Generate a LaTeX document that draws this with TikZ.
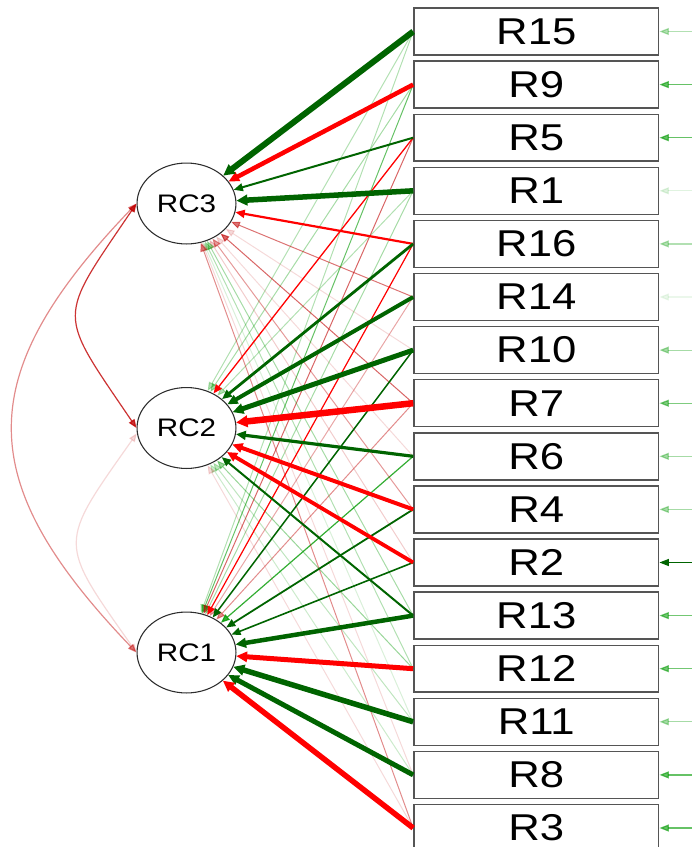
\documentclass[tikz,border=0pt]{standalone}
\usepackage{fontspec}
\newfontfamily\labfont[FakeStretch=1.17]{Liberation Sans}
\usetikzlibrary{shapes.geometric,arrows.meta}
\definecolor{sgreen}{RGB}{0,100,0}
\definecolor{wgreen}{RGB}{0,153,0}
\definecolor{sred}{RGB}{255,0,0}
\definecolor{wred}{RGB}{191,0,0}
\definecolor{boxline}{RGB}{85,85,85}
\definecolor{ellline}{RGB}{45,45,45}
\begin{document}
\begin{tikzpicture}[x=0.75pt,y=-0.75pt,
  item/.style={draw=boxline,line width=1.1pt,fill=white,minimum width=183.6pt,minimum height=35.2pt,inner sep=0pt,font=\labfont\fontsize{28}{28}\selectfont},
  factor/.style={ellipse,draw=ellline,line width=0.8pt,fill=white,minimum width=74.2pt,minimum height=60.7pt,inner sep=0pt,font=\labfont\fontsize{19}{19}\selectfont},
  edgetip/.style={-{Triangle[length=6.2pt 0.5,width=4.6pt 0.8]}},
  cortip/.style={{Triangle[length=6.5pt,width=5pt]}-{Triangle[length=6.5pt,width=5pt]}, draw=wred, line width=0.9pt},
  restip/.style={-{Triangle[length=7pt,width=5.2pt]}, line width=0.9pt}]
\useasboundingbox (0,0) rectangle (692,847);

% items
\foreach \nn [count=\ii from 0] in {15,9,5,1,16,14,10,7,6,4,2,13,12,11,8,3}{
  \node[item] (R\nn) at (536.3, 31.5+53.1*\ii) {R\nn};
}
% factors
\node[factor] (RC3) at (186.5,203.5) {RC3};
\node[factor] (RC2) at (186.5,428) {RC2};
\node[factor] (RC1) at (186.5,652.5) {RC1};

% weak loadings
\foreach \ii/\ff/\cc/\ww/\oo in {
  15/2/wgreen/1/0.3, 15/1/wgreen/1/0.3, 9/2/wgreen/1/0.35, 9/1/wgreen/1/0.6,
  5/1/wred/1/0.6, 1/2/wgreen/1/0.3, 1/1/wgreen/1/0.35, 14/3/wred/1/0.55,
  14/1/wred/1/0.35, 10/3/wred/1/0.15, 7/3/wred/1/0.6, 7/1/wred/1/0.45,
  6/3/wred/1/0.15, 6/1/wgreen/1.2/0.8, 4/3/wred/1/0.4, 2/3/wred/1/0.2,
  13/3/wgreen/1/0.35, 12/3/wgreen/1/0.3, 12/2/wgreen/1/0.4, 11/3/wgreen/1/0.15,
  11/2/wgreen/1/0.25, 8/3/wred/1/0.15, 8/2/wgreen/1/0.2, 3/3/wred/1/0.45,
  3/2/wred/1/0.15}{
  \pgfmathsetmacro\lw{\ww*0.75}
  \draw[edgetip, draw=\cc, line width=\lw pt, opacity=\oo] (R\ii.west) -- (RC\ff);
}
% strong loadings
\foreach \ii/\ff/\cc/\ww in {
  5/2/sred/1.3, 16/1/sred/1.2, 10/1/sgreen/1.5, 4/1/sgreen/1.8, 2/1/sgreen/1.6,
  13/2/sgreen/2, 5/3/sgreen/2, 16/3/sred/2.2, 16/2/sgreen/2.8, 6/2/sgreen/3.2,
  2/2/sred/3.8, 4/2/sred/4, 14/2/sgreen/4, 9/3/sred/4.5, 13/1/sgreen/4.5,
  10/2/sgreen/5, 12/1/sred/5, 8/1/sgreen/5, 1/3/sgreen/5.5, 11/1/sgreen/5.5,
  3/1/sred/5.5, 15/3/sgreen/6, 7/2/sred/6.5}{
  \pgfmathsetmacro\lw{\ww*0.75}
  \draw[edgetip, draw=\cc, line width=\lw pt] (R\ii.west) -- (RC\ff);
}

% residuals
\foreach \nn/\cc/\oo in {15/wgreen/0.3, 9/wgreen/0.6, 5/wgreen/0.6, 1/wgreen/0.12,
  16/wgreen/0.3, 14/wgreen/0.08, 10/wgreen/0.35, 7/wgreen/0.5, 6/wgreen/0.35,
  4/wgreen/0.35, 2/sgreen/1, 13/wgreen/0.55, 12/wgreen/0.55, 11/wgreen/0.35,
  8/wgreen/0.6, 3/wgreen/0.6}{
  \coordinate (e\nn) at ([xshift=25.4pt]R\nn.east);
  \draw[restip, draw=\cc, opacity=\oo] (e\nn) -- (R\nn.east);
}

% factor correlations
\draw[cortip, draw opacity=0.45, fill opacity=0.45] (RC3.west) .. controls +(-165,172) and +(-165,-172) .. (RC1.west);
\draw[cortip, draw opacity=0.15, fill opacity=0.15] (RC2.186) .. controls +(-79,112) and +(-79,-112) .. (RC1.west);
\draw[cortip, draw opacity=0.8, fill opacity=0.8] (RC3.west) .. controls +(-80,118) and +(-80,-118) .. (RC2.west);
\end{tikzpicture}
\end{document}
